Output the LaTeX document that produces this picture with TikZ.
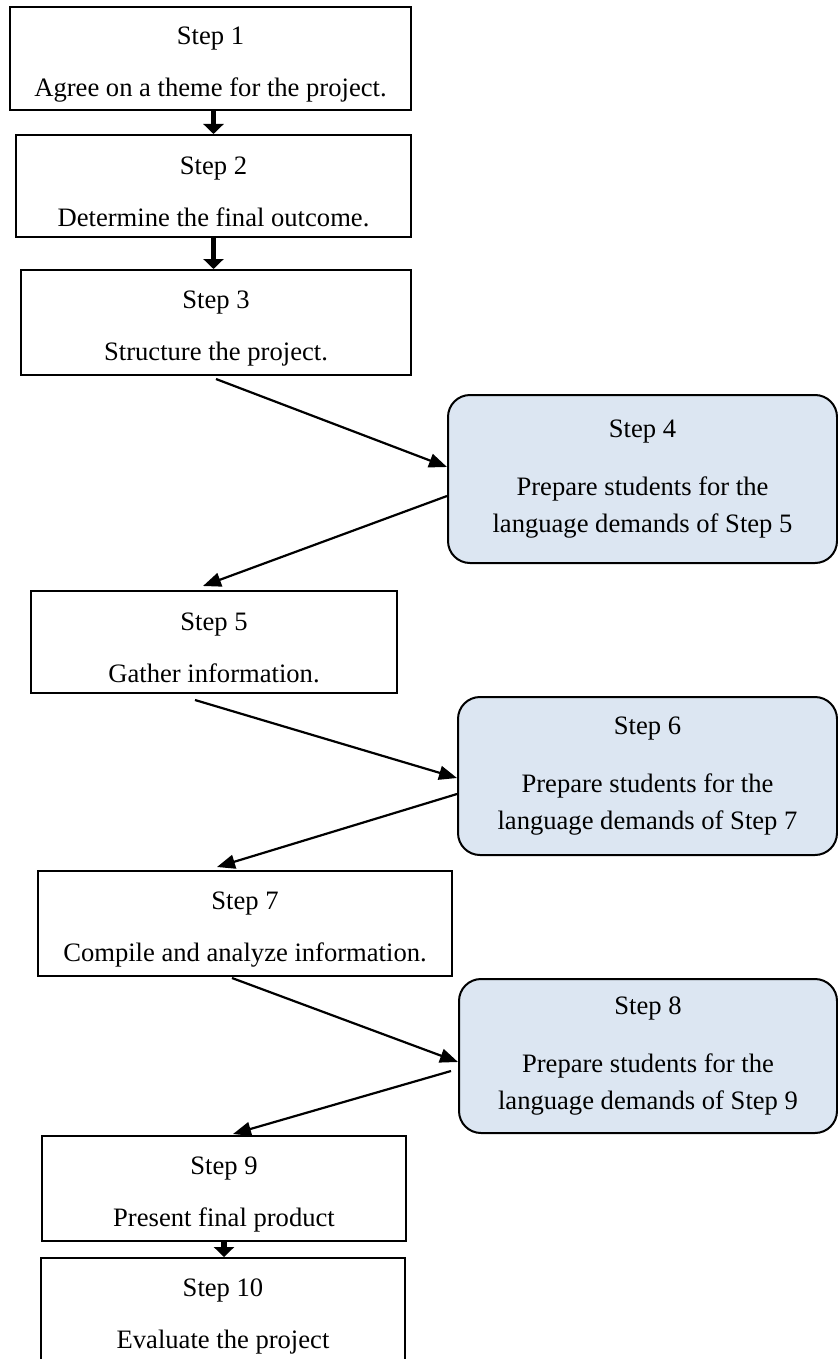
\documentclass[tikz,border=0pt]{standalone}
\usepackage{fontspec}
\setmainfont{Liberation Serif}
\usetikzlibrary{positioning, arrows.meta, calc}
\definecolor{prepblue}{HTML}{DCE6F2}
\newcommand{\topgap}{\rule{0pt}{14.5pt}}

\begin{document}
\begin{tikzpicture}[
            x=0.5pt, y=-0.5pt,
            stepbox/.style={
                rectangle,
                draw=black,
                line width=1pt,
                inner sep=2pt,
                align=center,
                font=\fontsize{13.3pt}{18.5pt}\selectfont
            },
            prepbox/.style={
                rectangle,
                rounded corners=11pt,
                draw=black,
                line width=1pt,
                fill=prepblue,
                inner sep=2pt,
                align=center,
                font=\fontsize{13.3pt}{18.5pt}\selectfont
            },
            arrow/.style={-{Triangle[length=9pt,width=7pt]}, line width=1.1pt},
            blockarrow/.style={-{Triangle[length=5pt,width=10pt]}, line width=2.6pt}
        ]

        \useasboundingbox (0,0) rectangle (838,1359);
        \clip (0,0) rectangle (838,1359);

        % Nodes
        \node[stepbox, minimum width=200.5pt, minimum height=51.5pt] (step1) at (210.5,58.5) {\topgap Step 1\\[7.5pt]Agree on a theme for the project.};
        \node[stepbox, minimum width=197.5pt, minimum height=51pt] (step2) at (213.5,186) {\topgap Step 2\\[7.5pt]Determine the final outcome.};
        \node[stepbox, minimum width=195pt, minimum height=52.5pt] (step3) at (216,322.5) {\topgap Step 3\\[7.5pt]Structure the project.};
        \node[prepbox, minimum width=194.5pt, minimum height=84pt] (step4) at (642.5,479) {Step 4\\[10.5pt]Prepare students for the\\language demands of Step 5};
        \node[stepbox, minimum width=183pt, minimum height=51pt] (step5) at (214,642) {\topgap Step 5\\[7.5pt]Gather information.};
        \node[prepbox, minimum width=189.5pt, minimum height=79pt] (step6) at (647.5,776) {Step 6\\[10.5pt]Prepare students for the\\language demands of Step 7};
        \node[stepbox, minimum width=207pt, minimum height=52.5pt] (step7) at (245,923.5) {\topgap Step 7\\[7.5pt]Compile and analyze information.};
        \node[prepbox, minimum width=189pt, minimum height=77pt] (step8) at (648,1056) {Step 8\\[10.5pt]Prepare students for the\\language demands of Step 9};
        \node[stepbox, minimum width=182pt, minimum height=52.5pt] (step9) at (224,1188.5) {\topgap Step 9\\[7.5pt]Present final product};
        \node[stepbox, minimum width=182pt, minimum height=52.5pt] (step10) at (223,1310.5) {\topgap Step 10\\[7.5pt]Evaluate the project};

        % Arrows
        \draw[blockarrow] (step1.south -| step2.north) -- (step2.north);
        \draw[blockarrow] (step2.south) -- (step2.south |- step3.north);
        \draw[arrow] ([yshift=-1.5pt]step3.south) -- ([yshift=6pt]step4.west);
        \draw[arrow] ([yshift=-8.5pt]step4.west) -- ([xshift=-5.5pt, yshift=2pt]step5.north);
        \draw[arrow] ([xshift=-9.5pt, yshift=-3pt]step5.south) -- ([yshift=-1pt]step6.west);
        \draw[arrow] ([yshift=-9pt]step6.west) -- ([xshift=-14pt, yshift=1.5pt]step7.north);
        \draw[arrow] ([xshift=-6.5pt, yshift=-0.5pt]step7.south) -- ([yshift=-3pt]step8.west);
        \draw[arrow] ([xshift=-3.5pt, yshift=-7.5pt]step8.west) -- ([xshift=4.5pt, yshift=0.5pt]step9.north);
        \draw[blockarrow] (step9.south) -- (step9.south |- step10.north);

        \end{tikzpicture}
\end{document}
